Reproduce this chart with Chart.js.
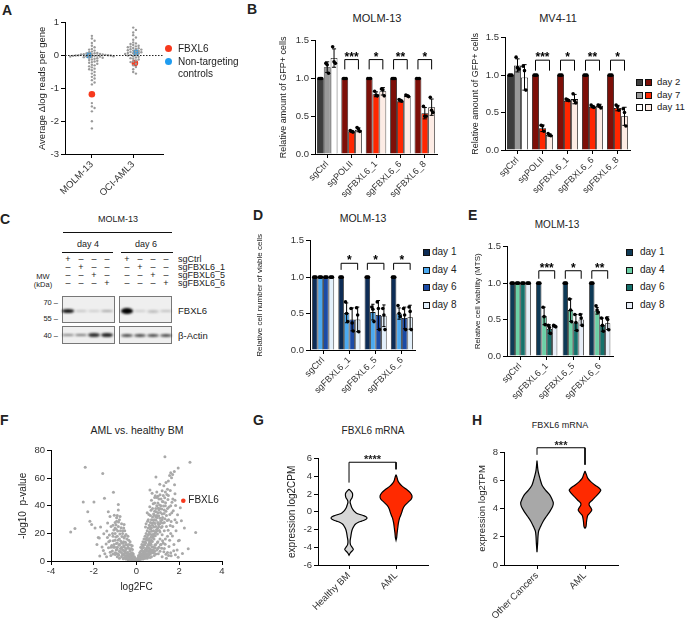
<!DOCTYPE html>
<html lang="en">
<head>
<meta charset="UTF-8" />
<title>FBXL6 figure</title>
<script src="https://cdn.jsdelivr.net/npm/chart.js@4"></script>
<style>
  body { margin: 0; width: 685px; height: 629px; position: relative; overflow: hidden; background: #fff;
         font-family: 'Liberation Sans', Arial, sans-serif; color: #222; }
  canvas { position: absolute; }
  .t { position: absolute; white-space: nowrap; line-height: 1; }
  .sq { position: absolute; width: 7px; height: 7px; border: 1px solid #111; box-sizing: border-box; }
  .box { position: absolute; border: 1px solid #777; background: #efefef; box-sizing: border-box; }
  .band { position: absolute; border-radius: 50%; filter: blur(0.8px); }
  .hl { position: absolute; background: #111; height: 1px; }
</style>
</head>
<body>
<script>
// ---------- data ----------
// A: screen, average delta log reads per gene
const aCats = ['MOLM-13', 'OCI-AML3'];
const aMolm = [0.6, 0.52, 0.45, 0.38, 0.3, 0.25, 0.2, 0.18, 0.15, 0.12, 0.1, 0.08, 0.07, 0.06, 0.05, 0.04, 0.04,
  0.03, 0.03, 0.02, 0.02, 0.01, 0.01, 0, 0, 0, -0.01, -0.01, -0.02, -0.02, -0.03, -0.03, -0.04, -0.05, -0.06,
  -0.07, -0.08, -0.1, -0.12, -0.14, -0.16, -0.18, -0.2, -0.22, -0.25, -0.28, -0.3, -0.33, -0.36, -0.4, -0.42,
  -0.45, -0.5, -0.55, -0.6, -0.65, -0.7, -0.75, -0.82, -0.88, -1.45, -1.55, -1.6, -1.7, -2.0, -2.22];
const aOci = [0.85, 0.78, 0.7, 0.62, 0.55, 0.48, 0.4, 0.37, 0.35, 0.32, 0.3, 0.28, 0.27, 0.25, 0.23, 0.22,
  0.2, 0.19, 0.18, 0.16, 0.15, 0.14, 0.12, 0.11, 0.1, 0.08, 0.07, 0.06, 0.05, 0.03, 0.02, 0, -0.02, -0.04,
  -0.06, -0.08, -0.1, -0.12, -0.15, -0.18, -0.2, -0.25, -0.3, -0.35, -0.42, -0.5, -0.55];
const aFbxl6 = [{ x: 0, y: -1.18 }, { x: 1.04, y: -0.23 }];
const aNonTargeting = [{ x: -0.07, y: 0.01 }, { x: 1.07, y: 0.09 }];

// B: GFP competition assay
const bCats = ['sgCtrl', 'sgPOLII', 'sgFBXL6_1', 'sgFBXL6_6', 'sgFBXL6_8'];
const bDays = ['day 2', 'day 7', 'day 11'];
const molmGfp = [[1, 1, 1, 1, 1], [1.15, 0.30, 0.79, 0.70, 0.54], [1.27, 0.32, 0.83, 0.77, 0.62]];
const molmGfpReps = [
  [[1, 1, 1], [1, 1, 1], [1, 1, 1], [1, 1, 1], [1, 1, 1]],
  [[1.2, 1.18, 1.07], [0.31, 0.3, 0.29], [0.83, 0.78, 0.77], [0.72, 0.71, 0.7], [0.63, 0.5, 0.5]],
  [[1.42, 1.22, 1.2], [0.35, 0.33, 0.3], [0.86, 0.85, 0.77], [0.78, 0.77, 0.76], [0.75, 0.58, 0.55]]];
const mvGfp = [[1, 1, 1, 1, 1], [1.13, 0.29, 0.66, 0.58, 0.56], [0.97, 0.2, 0.68, 0.59, 0.45]];
const mvGfpReps = [
  [[1, 1, 1], [1, 1, 1], [1, 1, 1], [1, 1, 1], [1, 1, 1]],
  [[1.24, 1.1, 1.08], [0.33, 0.32, 0.25], [0.68, 0.67, 0.66], [0.6, 0.58, 0.57], [0.6, 0.58, 0.53]],
  [[1.12, 1.06, 0.8], [0.22, 0.2, 0.19], [0.75, 0.66, 0.63], [0.6, 0.59, 0.56], [0.55, 0.5, 0.32]]];
const bStars = ['', '***', '*', '**', '*'];

// D / E: viability
const dCats = ['sgCtrl', 'sgFBXL6_1', 'sgFBXL6_5', 'sgFBXL6_6'];
const dDays = ['day 1', 'day 4', 'day 6', 'day 8'];
const viable = [[1, 1, 1, 1], [1, 0.51, 0.52, 0.5], [1, 0.42, 0.48, 0.44], [1, 0.42, 0.47, 0.45]];
const viableReps = [
  [[1, 1, 1], [1, 1, 1], [1, 1, 1], [1, 1, 1]],
  [[1, 1, 1], [0.66, 0.5, 0.39], [0.59, 0.56, 0.39], [0.61, 0.5, 0.46]],
  [[1, 1, 1], [0.57, 0.37, 0.26], [0.66, 0.57, 0.28], [0.57, 0.48, 0.28]],
  [[1, 1, 1], [0.58, 0.48, 0.25], [0.57, 0.48, 0.28], [0.59, 0.53, 0.28]]];
const dStars = ['', '*', '*', '*'];
const mts = [[1, 1, 1, 1], [1, 0.55, 0.63, 0.62], [1, 0.37, 0.46, 0.43], [1, 0.41, 0.5, 0.45]];
const mtsReps = [
  [[1, 1, 1], [1, 1, 1], [1, 1, 1], [1, 1, 1]],
  [[1, 1, 1], [0.67, 0.54, 0.43], [0.78, 0.63, 0.47], [0.69, 0.63, 0.6]],
  [[1, 1, 1], [0.42, 0.39, 0.31], [0.57, 0.46, 0.35], [0.52, 0.42, 0.34]],
  [[1, 1, 1], [0.42, 0.41, 0.4], [0.57, 0.52, 0.42], [0.52, 0.5, 0.36]]];
const eStars = ['', '***', '*', '**'];

// F: volcano, [log2FC, -log10 p]
const volcano = [
  [1.33, 75.6], [-2.4, 68], [2.5, 71.6], [1.95, 67.4], [1.77, 65], [1.69, 62.7], [1.64, 60.4], [-1.58, 63.4],
  [1.49, 58], [0.91, 61], [1.09, 55.7], [1.38, 57], [1.28, 54.5], [-2.49, 42.8], [-1.99, 42.8], [-1.08, 49.8],
  [-1.5, 45.6], [0.63, 51.5], [1.8, 48.7], [1.8, 44], [1.49, 47.5], [1.25, 47.5], [-0.85, 41], [-2.28, 35.8],
  [-2.88, 23.6], [-3.08, 21], [2.77, 20.6], [2.24, 24], [1.96, 14.7], [2.42, 8.9], [-2.18, 28.8], [-2.1, 26.4],
  [-1.94, 24], [-1.79, 17], [-1.74, 16.6], [-1.39, 21.8], [-1.24, 14.7], [-1.08, 10], [-0.93, 5.4], [-1.55, 7.7],
  [-1.32, 35.8], [-1.24, 32.3], [-0.85, 37], [-0.77, 32.3], [-0.93, 28.8], [-1.0, 24], [-1.12, 19.9], [-1.36, 17],
  [1.55, 62], [1.6, 64], [1.45, 52], [1.35, 50], [1.2, 51], [1.15, 45], [1.0, 47], [0.95, 50], [0.85, 46],
  [-0.1, 1], [-0.15, 2], [-0.2, 3], [-0.25, 2], [-0.3, 4], [-0.35, 5], [-0.4, 3], [-0.45, 6], [-0.5, 4],
  [-0.55, 7], [-0.6, 5], [-0.65, 8], [-0.7, 6], [-0.75, 9], [-0.8, 7], [-0.85, 5], [-0.9, 10], [-0.95, 8],
  [-1.0, 6], [-0.2, 6], [-0.3, 8], [-0.4, 10], [-0.5, 12], [-0.6, 14], [-0.7, 13], [-0.8, 16], [-0.9, 18],
  [-1.0, 15], [-0.45, 16], [-0.55, 18], [-0.65, 20], [-0.75, 22], [-0.85, 25], [-0.95, 23], [-1.05, 12],
  [-1.1, 18], [-1.2, 10], [-1.3, 14], [-0.35, 12], [-0.25, 9], [-0.15, 5], [-0.05, 0.5], [-0.1, 3], [-0.5, 9],
  [-0.6, 11], [-0.7, 10], [-0.8, 12], [-0.9, 13], [-1.0, 20], [-0.6, 2], [-0.7, 3], [-0.8, 2], [-0.9, 3],
  [-0.5, 1.5], [-0.4, 1], [-1.1, 5], [-1.2, 4], [-1.4, 3], [-1.0, 28], [-0.8, 30], [-0.9, 33], [-1.1, 26],
  [-0.7, 27], [-0.6, 24], [-0.55, 22], [-0.3, 14], [-0.2, 11], [-0.4, 18],
  [0.05, 1], [0.1, 2], [0.15, 3], [0.2, 4], [0.25, 5], [0.3, 6], [0.35, 7], [0.4, 8], [0.45, 9], [0.5, 10],
  [0.55, 12], [0.6, 13], [0.65, 14], [0.7, 15], [0.75, 17], [0.8, 18], [0.85, 20], [0.9, 21], [0.95, 22],
  [1.0, 24], [1.05, 25], [1.1, 27], [1.15, 28], [1.2, 30], [0.1, 4], [0.15, 6], [0.2, 7], [0.25, 9], [0.3, 11],
  [0.35, 12], [0.4, 14], [0.45, 16], [0.5, 17], [0.55, 19], [0.6, 21], [0.65, 23], [0.7, 24], [0.75, 26],
  [0.8, 28], [0.85, 30], [0.9, 32], [0.95, 33], [1.0, 35], [1.05, 37], [1.1, 38], [0.2, 10], [0.25, 12],
  [0.3, 14], [0.35, 16], [0.4, 18], [0.45, 20], [0.5, 22], [0.55, 24], [0.6, 26], [0.65, 28], [0.7, 30],
  [0.75, 32], [0.8, 34], [0.85, 36], [0.9, 38], [0.95, 40], [1.0, 42], [0.3, 3], [0.4, 4], [0.5, 5], [0.6, 7],
  [0.7, 8], [0.8, 10], [0.9, 12], [1.0, 14], [1.1, 16], [1.2, 19], [1.3, 22], [1.4, 25], [0.5, 2], [0.7, 3],
  [0.9, 5], [1.1, 7], [1.3, 9], [1.5, 4], [1.2, 3], [1.4, 2], [1.6, 6], [1.0, 9], [0.8, 6], [0.6, 16],
  [0.7, 19], [0.8, 22], [0.9, 25], [1.0, 28], [1.1, 31], [1.2, 34], [1.3, 37], [1.15, 40], [1.25, 43],
  [1.35, 40], [1.4, 33], [1.5, 30], [1.45, 38], [1.3, 28], [1.2, 25], [1.1, 21], [0.45, 27], [0.55, 30],
  [0.65, 33], [0.75, 38], [0.85, 42], [0.95, 46], [1.05, 45], [1.1, 48], [0.5, 35], [0.7, 44], [1.6, 20],
  [1.7, 25], [1.55, 15], [1.8, 30], [1.65, 35], [1.75, 12], [1.9, 8], [1.85, 22], [2.0, 15], [1.6, 40],
  [1.7, 45], [0, 0.3], [0.02, 0.5], [-0.02, 0.6], [0.05, 0.2], [-0.05, 0.3], [0.08, 1.5], [-0.08, 1.2],
  [0.12, 0.8], [-0.12, 0.9], [0.15, 1.8], [-0.15, 1.0], [0.2, 1.2], [-0.2, 1.4], [0.25, 2.5], [-0.25, 0.8],
  [0.3, 1.5], [-0.3, 2], [0.35, 3], [-0.35, 1.2], [0.4, 2], [-0.45, 2.5], [0.45, 4], [0.55, 3], [0.6, 4.5],
  [0.65, 5], [0.75, 6], [0.85, 7], [0.95, 8], [1.05, 10], [1.15, 12], [1.25, 13], [1.35, 16], [1.45, 18],
  [0.12, 2.4], [0.18, 5.1], [0.22, 3.3], [0.27, 7.6], [0.29, 4.2], [0.33, 9.8], [0.36, 5.4], [0.38, 11.7],
  [0.41, 6.9], [0.43, 13.2], [0.47, 8.1], [0.48, 15.3], [0.52, 11.2], [0.53, 18.6], [0.57, 9.4], [0.58, 14.8],
  [0.61, 19.7], [0.62, 11.5], [0.64, 24.9], [0.67, 17.3], [0.68, 12.2], [0.71, 21.6], [0.72, 27.4], [0.74, 14.1],
  [0.77, 19.2], [0.78, 29.8], [0.81, 24.6], [0.82, 15.9], [0.84, 33.1], [0.87, 27.2], [0.88, 18.4], [0.91, 29.6],
  [0.92, 35.7], [0.94, 22.8], [0.97, 31.5], [0.98, 19.6], [1.01, 38.2], [1.03, 26.4], [1.04, 32.9], [1.07, 22.1],
  [1.08, 40.6], [1.12, 35.2], [1.13, 29.1], [1.16, 24.3], [1.18, 37.8], [1.21, 43.1], [1.22, 31.6], [1.24, 27.5],
  [1.27, 39.9], [1.29, 34.4], [1.32, 45.8], [1.33, 30.7], [1.36, 42.2], [1.38, 36.1], [1.42, 48.3], [1.44, 29.4],
  [1.47, 44.6], [1.52, 39.1], [1.56, 33.8], [1.58, 51.2], [1.62, 28.6], [1.66, 42.7], [1.72, 36.4], [1.78, 55.3],
  [1.83, 40.2], [1.88, 27.9], [1.92, 33.5], [2.05, 38.6], [2.1, 29.2], [1.68, 18.2], [1.52, 10.6], [1.45, 6.2],
  [1.62, 3.8], [1.74, 7.4], [1.82, 4.6], [1.95, 2.8], [2.15, 5.5], [1.38, 4.9], [1.28, 6.7], [1.18, 9.3],
  [1.22, 14.6], [1.34, 12.1], [1.48, 22.3], [1.58, 25.7], [1.12, 11.8], [0.98, 13.4], [0.88, 9.6], [0.76, 7.3],
  [0.66, 6.1], [0.56, 4.8], [0.46, 3.1], [0.37, 2.2], [0.64, 2.6], [0.83, 3.9], [1.02, 5.2], [0.42, 24.6],
  [0.52, 28.9], [0.58, 33.7], [0.68, 36.8], [0.78, 41.5], [0.88, 47.3], [0.62, 39.4], [0.73, 49.2],
  [-0.11, 1.9], [-0.17, 3.8], [-0.21, 1.2], [-0.24, 5.6], [-0.28, 2.9], [-0.31, 7.1], [-0.34, 3.4], [-0.37, 9.3],
  [-0.39, 4.7], [-0.42, 6.2], [-0.44, 11.8], [-0.47, 3.2], [-0.49, 8.4], [-0.52, 13.6], [-0.54, 5.9],
  [-0.57, 10.1], [-0.58, 16.7], [-0.62, 7.8], [-0.63, 12.9], [-0.66, 4.4], [-0.68, 17.8], [-0.71, 9.2],
  [-0.73, 14.3], [-0.76, 6.8], [-0.78, 19.6], [-0.81, 11.4], [-0.83, 4.1], [-0.86, 15.2], [-0.88, 21.7],
  [-0.91, 8.6], [-0.94, 12.7], [-0.97, 17.4], [-0.99, 4.8], [-1.02, 9.9], [-1.06, 22.4], [-1.09, 14.6],
  [-1.13, 7.2], [-1.16, 11.3], [-1.19, 25.1], [-1.23, 6.4], [-1.27, 18.8], [-1.31, 9.7], [-1.35, 27.6],
  [-1.42, 12.4], [-1.48, 5.3], [-1.53, 19.8], [-1.61, 10.2], [-1.68, 24.6], [-1.72, 3.6], [-1.85, 11.9],
  [-0.96, 26.3], [-0.84, 28.2], [-0.72, 24.1], [-0.64, 21.9], [-0.93, 31.4], [-1.04, 33.2], [-0.58, 26.4],
  [-0.49, 19.3], [-0.36, 15.1], [-0.27, 11.6], [-0.19, 8.4],
  [0.03, 0.9], [-0.03, 1.4], [0.06, 2.1], [-0.06, 0.7], [0.09, 0.4], [-0.09, 2.3], [0.11, 3.4], [-0.13, 1.6],
  [0.14, 1.1], [-0.16, 2.7], [0.17, 2.6], [-0.18, 0.5], [0.19, 4.6], [-0.22, 3.1], [0.23, 1.9], [-0.26, 4.3],
  [0.27, 3.6], [-0.28, 1.1], [0.32, 4.8], [-0.32, 3.6], [0.34, 2.1], [-0.38, 2.2], [0.39, 5.7], [-0.41, 4.9],
  [0.44, 2.9], [-0.46, 1.9], [0.49, 6.8], [-0.53, 2.6], [0.51, 3.9], [-0.57, 3.9], [0.54, 7.7], [-0.62, 1.6],
  [0.59, 5.9], [0.63, 8.8], [0.69, 6.9], [0.73, 10.4], [0.79, 8.2], [0.86, 11.6]];
const volcanoFbxl6 = [2.19, 43.7];

// G / H: violins, [value, relative density]
const gCats = ['Healthy BM', 'AML'];
const healthyBm = [[2.55, 0], [2.3, 0.12], [2.1, 0.19], [1.85, 0.2], [1.6, 0.17], [1.35, 0.09], [1.1, 0.06],
  [0.8, 0.1], [0.5, 0.15], [0.25, 0.22], [0.05, 0.3], [-0.15, 0.42], [-0.3, 0.62], [-0.45, 0.85], [-0.6, 0.98],
  [-0.75, 1.0], [-0.9, 0.9], [-1.05, 0.7], [-1.2, 0.5], [-1.4, 0.35], [-1.7, 0.25], [-2.0, 0.18], [-2.4, 0.13],
  [-2.8, 0.1], [-3.3, 0.06], [-3.7, 0.08], [-4.0, 0.17], [-4.25, 0.24], [-4.5, 0.13], [-4.7, 0.05], [-4.9, 0]];
const healthyBmQ = [-0.36, -0.75, -1.27];
const amlCpm = [[4.2, 0], [3.9, 0.06], [3.6, 0.1], [3.3, 0.18], [2.9, 0.38], [2.55, 0.65], [2.2, 0.87],
  [1.8, 1.0], [1.45, 0.96], [1.1, 0.76], [0.7, 0.54], [0.35, 0.43], [0, 0.37], [-0.35, 0.3], [-0.7, 0.22],
  [-1.25, 0.15], [-1.8, 0.11], [-2.35, 0.07], [-2.9, 0.04], [-3.2, 0]];
const amlCpmQ = [2.05, 1.5, 0.55];
const hCats = ['Other Cancers', 'AML'];
const otherTpm = [[7.4, 0], [6.7, 0.06], [6.25, 0.15], [6.0, 0.21], [5.65, 0.31], [5.3, 0.52], [4.95, 0.79],
  [4.6, 0.94], [4.4, 1.0], [4.15, 0.96], [3.8, 0.79], [3.45, 0.58], [3.1, 0.38], [2.7, 0.21], [2.4, 0.1],
  [2.0, 0.06], [1.55, 0.04], [0.9, 0]];
const otherTpmQ = [4.85, 4.3, 3.75];
const amlTpm = [[6.65, 0], [6.4, 0.09], [6.15, 0.17], [5.9, 0.36], [5.65, 0.64], [5.45, 0.89], [5.3, 1.0],
  [5.05, 0.85], [4.8, 0.64], [4.6, 0.47], [4.4, 0.28], [4.25, 0.26], [4.1, 0.34], [3.9, 0.43], [3.7, 0.32],
  [3.5, 0.17], [3.1, 0.1], [2.7, 0.06], [2.6, 0]];
const amlTpmQ = [5.3, 5.0, 4.45];

// C: western blot lanes
const blotGuides = ['sgCtrl', 'sgFBXL6_1', 'sgFBXL6_5', 'sgFBXL6_6'];

// ---------- helpers ----------
Chart.defaults.font.family = "'Liberation Sans', Arial, sans-serif";
Chart.defaults.color = '#222';

function txt(x, base, s, size, align, bold) {
  const el = document.createElement('div');
  el.className = 't';
  el.textContent = s;
  el.style.fontSize = size + 'px';
  el.style.left = x + 'px';
  el.style.top = (base - 0.847 * size) + 'px';
  if (bold) el.style.fontWeight = 'bold';
  if (align === 'center') el.style.transform = 'translateX(-50%)';
  if (align === 'right') el.style.transform = 'translateX(-100%)';
  document.body.appendChild(el);
  return el;
}
function div(cls, x, y, w, h, bg) {
  const el = document.createElement('div');
  el.className = cls;
  el.style.left = x + 'px'; el.style.top = y + 'px';
  if (w != null) el.style.width = w + 'px';
  if (h != null) el.style.height = h + 'px';
  if (bg) el.style.background = bg;
  document.body.appendChild(el);
  return el;
}
// canvas so that the plot area starts at (box.x, box.y)
function mkCanvas(box) {
  const c = document.createElement('canvas');
  const W = box.yW + box.w + box.pr, H = box.pt + box.h + box.xH;
  c.width = W; c.height = H;
  c.style.left = (box.x - box.yW) + 'px';
  c.style.top = (box.y - box.pt) + 'px';
  c.style.width = W + 'px'; c.style.height = H + 'px';
  document.body.appendChild(c);
  return c;
}
function yAxis(o) {
  return {
    type: 'linear', min: o.min, max: o.max,
    ticks: { stepSize: o.step, font: { size: 9.5 }, color: '#333', padding: 2, callback: o.fmt || (v => v) },
    grid: { drawOnChartArea: false, drawTicks: true, tickLength: 4, color: '#000' },
    border: { display: true, color: '#000', width: 1 },
    title: { display: true, text: o.title, font: { size: o.ts || 9 }, color: '#222', padding: 0 },
    afterFit: s => { s.width = o.w; }
  };
}
function catAxis(h) {
  return {
    type: 'category', offset: true,
    ticks: { minRotation: 45, maxRotation: 45, autoSkip: false, font: { size: 9 }, color: '#333', padding: 1 },
    grid: { offset: false, drawOnChartArea: false, drawTicks: true, tickLength: 4, color: '#000' },
    border: { display: true, color: '#000', width: 1 },
    afterFit: s => { s.height = h; }
  };
}
// linear x axis showing category names at 0, 1
function catLinAxis(min, max, cats, h) {
  return {
    type: 'linear', min: min, max: max,
    afterBuildTicks: s => { s.ticks = cats.map((c, i) => ({ value: i })); },
    ticks: { minRotation: 45, maxRotation: 45, autoSkip: false, font: { size: 9.5 }, color: '#333', padding: 1,
             callback: v => cats[v] },
    grid: { drawOnChartArea: false, drawTicks: true, tickLength: 4, color: '#000' },
    border: { display: true, color: '#000', width: 1 },
    afterFit: s => { s.height = h; }
  };
}
function baseOpts(box, scales, plugins) {
  return {
    responsive: false, animation: false,
    layout: { autoPadding: false, padding: { top: box.pt, right: box.pr, left: 0, bottom: 0 } },
    scales: scales,
    plugins: Object.assign({ legend: { display: false }, tooltip: { enabled: false } }, plugins)
  };
}
const fmt1 = v => v.toFixed(1);

// error bars + replicate dots on bars
const errPlugin = {
  id: 'err',
  afterDatasetsDraw(chart, args, o) {
    if (!o || !o.reps) return;
    const ctx = chart.ctx, y = chart.scales.y;
    ctx.save();
    ctx.strokeStyle = '#000'; ctx.fillStyle = '#000'; ctx.lineWidth = 1;
    o.reps.forEach((dsReps, i) => {
      const meta = chart.getDatasetMeta(i);
      dsReps.forEach((r, j) => {
        const bar = meta.data[j], x = bar.x, v = chart.data.datasets[i].data[j];
        const mean = r.reduce((a, b) => a + b, 0) / r.length;
        const sd = Math.sqrt(r.reduce((a, b) => a + (b - mean) * (b - mean), 0) / (r.length - 1));
        if (sd > 0.004) {
          const cw = bar.width * 0.3;
          const y1 = y.getPixelForValue(v - sd), y2 = y.getPixelForValue(v + sd);
          ctx.beginPath();
          ctx.moveTo(x, y1); ctx.lineTo(x, y2);
          ctx.moveTo(x - cw, y1); ctx.lineTo(x + cw, y1);
          ctx.moveTo(x - cw, y2); ctx.lineTo(x + cw, y2);
          ctx.stroke();
        }
        r.forEach((p, k) => {
          ctx.beginPath();
          ctx.arc(x + (k - 1) * bar.width * 0.2, y.getPixelForValue(p), 1.8, 0, Math.PI * 2);
          ctx.fill();
        });
      });
    });
    ctx.restore();
  }
};
// significance brackets between first and last bar of a group
const sigPlugin = {
  id: 'sig',
  afterDatasetsDraw(chart, args, o) {
    if (!o || !o.labels) return;
    const ctx = chart.ctx, y = chart.scales.y, n = chart.data.datasets.length;
    const m0 = chart.getDatasetMeta(0), m1 = chart.getDatasetMeta(n - 1);
    ctx.save();
    ctx.strokeStyle = '#000'; ctx.fillStyle = '#000'; ctx.lineWidth = 1;
    ctx.font = "bold 12px 'Liberation Sans', Arial, sans-serif";
    ctx.textAlign = 'center'; ctx.textBaseline = 'alphabetic';
    o.labels.forEach((s, j) => {
      if (!s) return;
      const x1 = m0.data[j].x, x2 = m1.data[j].x;
      const yt = y.getPixelForValue(o.top), yb = y.getPixelForValue(o.leg);
      ctx.beginPath();
      ctx.moveTo(x1, yb); ctx.lineTo(x1, yt); ctx.lineTo(x2, yt); ctx.lineTo(x2, yb);
      ctx.stroke();
      ctx.fillText(s, (x1 + x2) / 2, yt + 1);
    });
    ctx.restore();
  }
};
// text at data coordinates
const notePlugin = {
  id: 'note',
  afterDatasetsDraw(chart, args, o) {
    if (!o || !o.items) return;
    const ctx = chart.ctx;
    ctx.save();
    o.items.forEach(it => {
      ctx.font = (it.bold ? 'bold ' : '') + it.size + "px 'Liberation Sans', Arial, sans-serif";
      ctx.fillStyle = it.color || '#222';
      ctx.textAlign = it.align || 'center';
      ctx.textBaseline = it.base || 'alphabetic';
      ctx.fillText(it.text, chart.scales.x.getPixelForValue(it.x) + (it.dx || 0),
                   chart.scales.y.getPixelForValue(it.y) + (it.dy || 0));
    });
    ctx.restore();
  }
};
Chart.register(errPlugin, sigPlugin, notePlugin);

function groupedBars(box, cats, days, vals, reps, colorOf, yo, sig) {
  return new Chart(mkCanvas(box), {
    type: 'bar',
    data: {
      labels: cats,
      datasets: days.map((d, i) => ({
        label: d, data: vals[i],
        backgroundColor: cats.map((c, j) => colorOf(i, j)),
        borderColor: '#111', borderWidth: 0.8,
        categoryPercentage: box.cp, barPercentage: 1
      }))
    },
    options: baseOpts(box, { x: catAxis(box.xH), y: yAxis(yo) }, { err: { reps: reps }, sig: sig })
  });
}

// beeswarm offsets (pixel spacing d), returns points in data units
function swarm(vals, cat, pxX, pxY, d) {
  const placed = [];
  return vals.slice().sort((a, b) => b - a).map(v => {
    const py = v * pxY;
    let k = 0, off = 0;
    while (true) {
      off = k === 0 ? 0 : (k % 2 ? 1 : -1) * Math.ceil(k / 2) * d;
      if (!placed.some(p => (p.px - off) ** 2 + (p.py - py) ** 2 < d * d * 0.95)) break;
      k++;
    }
    placed.push({ px: off, py: py });
    return { x: cat + off / pxX, y: v };
  });
}

function violinPts(profile, c, half) {
  const right = profile.map(p => ({ x: c + p[1] * half, y: p[0] }));
  const left = profile.slice().reverse().map(p => ({ x: c - p[1] * half, y: p[0] }));
  return right.concat(left);
}
function widthAt(profile, v) {
  for (let i = 0; i < profile.length - 1; i++) {
    const a = profile[i], b = profile[i + 1];
    if (v <= a[0] && v >= b[0]) return a[1] + (b[1] - a[1]) * (a[0] - v) / (a[0] - b[0]);
  }
  return 0;
}
function violinSets(profile, q, c, half, fill, qColor) {
  const sets = [{
    type: 'line', data: violinPts(profile, c, half), fill: 'shape', backgroundColor: fill,
    borderColor: '#000', borderWidth: 1.2, pointRadius: 0, tension: 0.3
  }];
  q.forEach((v, i) => {
    const w = widthAt(profile, v) * half * 0.97;
    sets.push({
      type: 'line', data: [{ x: c - w, y: v }, { x: c + w, y: v }], borderColor: qColor,
      borderWidth: 0.8, borderDash: i === 1 ? [2, 1.5] : [], pointRadius: 0, fill: false
    });
  });
  return sets;
}

// ---------- panel letters ----------
[['A', 2, 15], ['B', 247, 14], ['C', 0, 224], ['D', 253, 220], ['E', 468, 220],
 ['F', 0, 425], ['G', 253, 425], ['H', 472, 425]].forEach(l => txt(l[1], l[2], l[0], 14, 'left', true));

// ---------- A ----------
const boxA = { x: 65, y: 21, w: 98, h: 133, yW: 28, xH: 50, pt: 6, pr: 4 };
const aPxX = 98 / 2.37, aPxY = 133 / 4;
new Chart(mkCanvas(boxA), {
  type: 'scatter',
  data: {
    datasets: [
      { type: 'line', data: [{ x: -0.65, y: 0 }, { x: 1.72, y: 0 }], borderColor: '#222', borderWidth: 1,
        borderDash: [1.5, 1.5], pointRadius: 0 },
      { data: swarm(aMolm, 0, aPxX, aPxY, 2.7), backgroundColor: '#9a9a9a', pointRadius: 1.2, borderWidth: 0 },
      { data: swarm(aOci, 1, aPxX, aPxY, 2.7), backgroundColor: '#9a9a9a', pointRadius: 1.2, borderWidth: 0 },
      { data: aNonTargeting, backgroundColor: '#1f9cf0', pointRadius: 3.3, borderWidth: 0 },
      { data: aFbxl6, backgroundColor: '#f7391d', pointRadius: 3.3, borderWidth: 0 }
    ]
  },
  options: baseOpts(boxA, {
    x: catLinAxis(-0.65, 1.72, aCats, boxA.xH),
    y: yAxis({ min: -3, max: 1, step: 1, title: 'Average \u0394log reads per gene', ts: 9.5, w: boxA.yW })
  }, {})
});
div('band', 164.5, 44.5, 7, 7, '#f7391d').style.filter = 'none';
div('band', 164.5, 57.5, 7, 7, '#1f9cf0').style.filter = 'none';
txt(178, 52, 'FBXL6', 10);
txt(178, 65, 'Non-targeting', 10);
txt(178, 77, 'controls', 10);

// ---------- B ----------
const grayDay = ['#3d3d3d', '#999999', '#ffffff'];
const redDay = ['#7d0f08', '#ff2600', '#fdece5'];
const bColor = (i, j) => (j === 0 ? grayDay[i] : redDay[i]);
groupedBars({ x: 315, y: 37, w: 122, h: 117, yW: 37, xH: 55, pt: 4, pr: 4, cp: 0.84 },
  bCats, bDays, molmGfp, molmGfpReps, bColor,
  { min: 0, max: 1.5, step: 0.5, fmt: fmt1, title: 'Relative amount of GFP+ cells', w: 37 },
  { labels: bStars, top: 1.25, leg: 1.12 });
groupedBars({ x: 505, y: 34, w: 125, h: 116, yW: 35, xH: 55, pt: 4, pr: 4, cp: 0.84 },
  bCats, bDays, mvGfp, mvGfpReps, bColor,
  { min: 0, max: 1.5, step: 0.5, fmt: fmt1, title: 'Relative amount of GFP+ cells', w: 35 },
  { labels: bStars, top: 1.2, leg: 1.06 });
txt(377, 22, 'MOLM-13', 11, 'center');
txt(558, 22, 'MV4-11', 11, 'center');
bDays.forEach((d, i) => {
  const yc = [82, 95, 107][i];
  div('sq', 636, yc - 3.5, null, null, grayDay[i]);
  div('sq', 645, yc - 3.5, null, null, redDay[i]);
  txt(657, yc + 3.5, d, 9.5);
});

// ---------- C (blot) ----------
txt(118, 223, 'MOLM-13', 9, 'center');
div('hl', 63, 232, 109, null);
txt(88, 248, 'day 4', 9, 'center');
txt(146, 248, 'day 6', 9, 'center');
div('hl', 62, 252, 51, null);
div('hl', 121, 252, 52, null);
const laneX = [68, 81, 94, 107, 127, 140, 153, 166];
const rowY = [263, 271, 279, 287];
blotGuides.forEach((g, r) => {
  laneX.forEach((x, l) => txt(x, rowY[r], blotGuides[l % 4] === g ? '+' : '\u2013', 9, 'center'));
  txt(178, rowY[r], g, 9);
});
txt(43, 279, 'MW', 7.5, 'center');
txt(43, 287, '(kDa)', 7.5, 'center');
div('box', 62, 296, 53, 27);
div('box', 119, 296, 53, 27);
div('box', 62, 326, 53, 18);
div('box', 119, 326, 53, 18);
txt(58, 305, '70 \u2013', 7.5, 'right');
txt(58, 321, '55 \u2013', 7.5, 'right');
txt(58, 338, '40 \u2013', 7.5, 'right');
txt(178, 314, 'FBXL6', 9.5);
txt(178, 339, '\u03b2-Actin', 9.5);
// FBXL6 bands (intensity per lane)
[[0.9, 3.5], [0.18, 2.5], [0.15, 2.5], [0.3, 2.5], [1, 6], [0.15, 2.5], [0.22, 3], [0.2, 2.5]].forEach((b, l) => {
  div('band', laneX[l] - 6, 311 - b[1] / 2, 12, b[1], 'rgba(0,0,0,' + b[0] + ')');
});
[[0.45, 2.5], [0.5, 2.5], [0.8, 4], [0.85, 4], [0.7, 3], [0.7, 3], [0.7, 3], [0.7, 3]].forEach((b, l) => {
  div('band', laneX[l] - 6, 335 - b[1] / 2, 12, b[1], 'rgba(0,0,0,' + b[0] + ')');
});

// ---------- D ----------
const dayBlue = ['#0d2c55', '#4ba9f0', '#1b4ba6', '#e3f0fb'];
groupedBars({ x: 310, y: 237, w: 105, h: 113, yW: 55, xH: 45, pt: 4, pr: 4, cp: 0.84 },
  dCats, dDays, viable, viableReps, (i) => dayBlue[i],
  { min: 0, max: 1.5, step: 0.5, fmt: fmt1, title: 'Relative cell number of viable cells', ts: 8, w: 55 },
  { labels: dStars, top: 1.19, leg: 1.1 });
txt(363, 222, 'MOLM-13', 10.5, 'center');
dDays.forEach((d, i) => {
  const yc = [252, 270, 287, 305][i];
  div('sq', 423, yc - 3.5, null, null, dayBlue[i]);
  txt(432, yc + 3.5, d, 10);
});

// ---------- E ----------
const dayTeal = ['#0e3a56', '#6bd0a6', '#15716b', '#e7eef8'];
groupedBars({ x: 507, y: 243, w: 106, h: 113, yW: 34, xH: 45, pt: 4, pr: 4, cp: 0.8 },
  dCats, dDays, mts, mtsReps, (i) => dayTeal[i],
  { min: 0, max: 1.5, step: 0.5, fmt: fmt1, title: 'Relative cell viability (MTS)', ts: 8, w: 34 },
  { labels: eStars, top: 1.17, leg: 1.06 });
txt(557, 228, 'MOLM-13', 10, 'center');
dDays.forEach((d, i) => {
  const yc = [252, 270, 287, 305][i];
  div('sq', 626, yc - 3.5, null, null, dayTeal[i]);
  txt(640, yc + 3.5, d, 10);
});

// ---------- F ----------
const boxF = { x: 51, y: 447, w: 171, h: 114, yW: 34, xH: 32, pt: 4, pr: 6 };
new Chart(mkCanvas(boxF), {
  type: 'scatter',
  data: {
    datasets: [
      { data: volcano.map(p => ({ x: p[0], y: p[1] })), backgroundColor: '#a9a9a9', pointRadius: 1.5, borderWidth: 0 },
      { data: [{ x: volcanoFbxl6[0], y: volcanoFbxl6[1] }], backgroundColor: '#f7391d', pointRadius: 2.3, borderWidth: 0 }
    ]
  },
  options: baseOpts(boxF, {
    x: {
      type: 'linear', min: -4, max: 4,
      ticks: { stepSize: 2, font: { size: 9.5 }, color: '#333', padding: 1 },
      grid: { drawOnChartArea: false, drawTicks: true, tickLength: 4, color: '#000' },
      border: { display: true, color: '#000', width: 1 },
      title: { display: true, text: 'log2FC', font: { size: 10 }, color: '#222', padding: 0 },
      afterFit: s => { s.height = boxF.xH; }
    },
    y: yAxis({ min: 0, max: 80, step: 20, title: '-log10  p-value', ts: 10, w: boxF.yW })
  }, {
    note: { items: [{ x: volcanoFbxl6[0], y: volcanoFbxl6[1], text: 'FBXL6', size: 10, align: 'left', base: 'middle', dx: 5 }] }
  })
});
txt(137, 434, 'AML vs. healthy BM', 10.5, 'center');

// ---------- G ----------
const boxG = { x: 318, y: 455, w: 110, h: 110, yW: 32, xH: 60, pt: 4, pr: 4 };
new Chart(mkCanvas(boxG), {
  type: 'scatter',
  data: {
    datasets: violinSets(healthyBm, healthyBmQ, 0, 0.38, '#d6d6d6', '#555')
      .concat(violinSets(amlCpm, amlCpmQ, 1, 0.34, '#ff2a00', '#5a0a00'))
      .concat([{ type: 'line', data: [{ x: 0, y: 3.3 }, { x: 0, y: 5.6 }, { x: 1, y: 5.6 }, { x: 1, y: 4.8 }],
                 borderColor: '#000', borderWidth: 1, pointRadius: 0, fill: false }])
  },
  options: baseOpts(boxG, {
    x: catLinAxis(-0.66, 1.68, gCats, boxG.xH),
    y: yAxis({ min: -6, max: 6, step: 2, title: 'expression log2CPM', ts: 10, w: boxG.yW })
  }, { note: { items: [{ x: 0.5, y: 5.6, text: '****', size: 11, bold: true, dy: 1 }] } })
});
txt(373, 434, 'FBXL6 mRNA', 10, 'center');

// ---------- H ----------
const boxH = { x: 504, y: 452, w: 114, h: 113, yW: 27, xH: 70, pt: 18, pr: 4 };
new Chart(mkCanvas(boxH), {
  type: 'scatter',
  data: {
    datasets: violinSets(otherTpm, otherTpmQ, 0, 0.34, '#a8a8a8', '#333')
      .concat(violinSets(amlTpm, amlTpmQ, 1, 0.33, '#ff2a00', '#5a0a00'))
      .concat([{ type: 'line', data: [{ x: 0, y: 7.8 }, { x: 0, y: 8.3 }, { x: 1, y: 8.3 }, { x: 1, y: 7.1 }],
                 borderColor: '#000', borderWidth: 1, pointRadius: 0, fill: false, clip: false }])
  },
  options: baseOpts(boxH, {
    x: catLinAxis(-0.6875, 1.6875, hCats, boxH.xH),
    y: yAxis({ min: 0, max: 8, step: 2, title: 'expression log2TPM', ts: 9.5, w: boxH.yW })
  }, { note: { items: [{ x: 0.5, y: 8.3, text: '***', size: 11, bold: true, dy: 1 }] } })
});
txt(560, 429, 'FBXL6 mRNA', 9, 'center');
</script>
</body>
</html>
